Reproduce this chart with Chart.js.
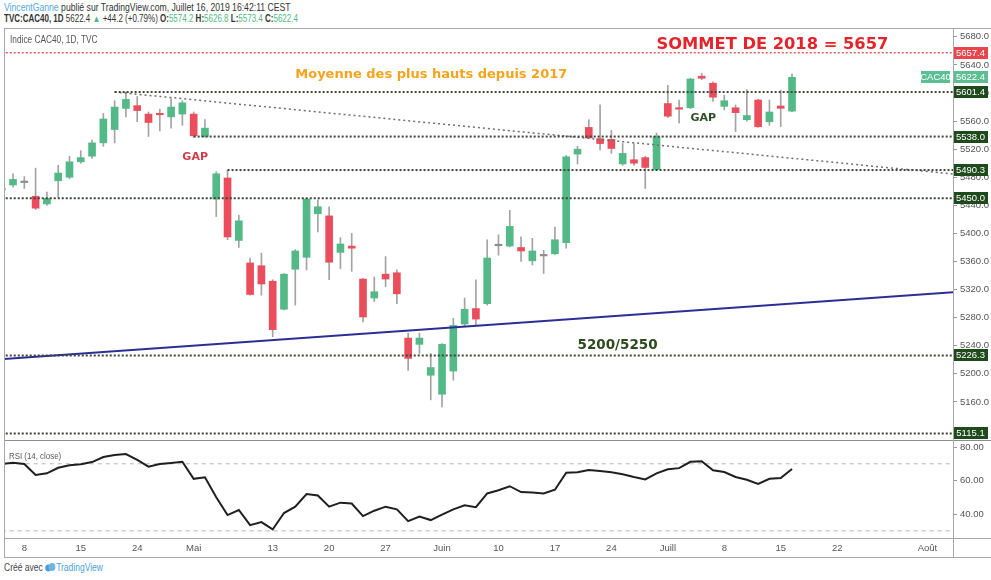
<!DOCTYPE html>
<html>
<head>
<meta charset="utf-8">
<title>CAC40 1D</title>
<script src="https://cdn.jsdelivr.net/npm/chart.js@4.4.1/dist/chart.umd.min.js"></script>
<style>
  body { margin: 0; width: 991px; height: 580px; background: #fff; position: relative; overflow: hidden;
         font-family: 'Liberation Sans', Arial, sans-serif; color: #333; }
  .abs { position: absolute; white-space: nowrap; transform-origin: left center; }
  #hdr1 { left: 4px; top: 2px; font-size: 10px; transform: scaleX(0.865); }
  #hdr2 { left: 4px; top: 13px; font-size: 10px; transform: scaleX(0.80); }
  .user { color: #55a9e0; }
  .g { color: #53b987; }
  #main { left: 4px; top: 28px; }
  #rsi { left: 4px; top: 440px; }
  .hl { position: absolute; height: 1px; background: #a8a8a8; }
  .vl { position: absolute; width: 1px; background: #a8a8a8; }
  #lbl1 { left: 10px; top: 34px; font-size: 10px; color: #555; transform: scaleX(0.83); }
  #lbl2 { left: 9px; top: 450px; font-size: 9.5px; color: #555; transform: scaleX(0.83); }
  #foot { left: 4px; top: 562px; font-size: 10px; color: #444; transform: scaleX(0.85); }
  #foot .tv { color: #4a9fd8; }
</style>
</head>
<body>
<div id="hdr1" class="abs"><span class="user">VincentGanne</span> publié sur TradingView.com, Juillet 16, 2019 16:42:11 CEST</div>
<div id="hdr2" class="abs"></div>
<canvas id="main" class="abs" width="987" height="412"></canvas>
<canvas id="rsi" class="abs" width="987" height="118"></canvas>
<div class="hl" style="left:4px;top:28px;width:987px"></div>
<div class="hl" style="left:4px;top:440px;width:987px;background:#8c8c8c"></div>
<div class="hl" style="left:4px;top:538px;width:987px"></div>
<div class="hl" style="left:4px;top:557px;width:987px"></div>
<div class="vl" style="left:4px;top:28px;height:530px"></div>
<div class="vl" style="left:953px;top:28px;height:530px"></div>
<div id="lbl1" class="abs">Indice CAC40, 1D, TVC</div>
<div id="lbl2" class="abs">RSI (14, close)</div>
<div id="foot" class="abs">Créé avec <svg width="13" height="9" viewBox="0 0 13 9" style="vertical-align:-1px"><circle cx="4" cy="5" r="3.5" fill="#4a9fd8"/><circle cx="8.5" cy="4" r="4" fill="#6bb6e6"/></svg><span class="tv">TradingView</span></div>
<script>
// ── Data ─────────────────────────────────────────────────
const dates = [
  '2019-04-04', '2019-04-05', '2019-04-08', '2019-04-09', '2019-04-10', '2019-04-11', '2019-04-12',
  '2019-04-15', '2019-04-16', '2019-04-17', '2019-04-18', '2019-04-23', '2019-04-24', '2019-04-25',
  '2019-04-26', '2019-04-29', '2019-04-30', '2019-05-02', '2019-05-03', '2019-05-06', '2019-05-07',
  '2019-05-08', '2019-05-09', '2019-05-10', '2019-05-13', '2019-05-14', '2019-05-15', '2019-05-16',
  '2019-05-17', '2019-05-20', '2019-05-21', '2019-05-22', '2019-05-23', '2019-05-24', '2019-05-27',
  '2019-05-28', '2019-05-29', '2019-05-30', '2019-05-31', '2019-06-03', '2019-06-04', '2019-06-05',
  '2019-06-06', '2019-06-07', '2019-06-10', '2019-06-11', '2019-06-12', '2019-06-13', '2019-06-14',
  '2019-06-17', '2019-06-18', '2019-06-19', '2019-06-20', '2019-06-21', '2019-06-24', '2019-06-25',
  '2019-06-26', '2019-06-27', '2019-06-28', '2019-07-01', '2019-07-02', '2019-07-03', '2019-07-04',
  '2019-07-05', '2019-07-08', '2019-07-09', '2019-07-10', '2019-07-11', '2019-07-12', '2019-07-15',
  '2019-07-16',
  // empty days to the right of the last candle
  '2019-07-17', '2019-07-18', '2019-07-19', '2019-07-22', '2019-07-23', '2019-07-24', '2019-07-25',
  '2019-07-26', '2019-07-29', '2019-07-30', '2019-07-31', '2019-08-01', '2019-08-02', '2019-08-05',
  '2019-08-06'
];
const open = [
  5462, 5469, 5472.5, 5453, 5442, 5475, 5480, 5502, 5510, 5529, 5548, 5578, 5582, 5570, 5571, 5566, 5570,
  5570, 5538, 5449, 5479, 5390, 5358, 5354, 5332, 5292, 5349, 5366, 5428, 5425, 5373, 5382, 5335, 5308,
  5342, 5344, 5251, 5242, 5198, 5171, 5204, 5271, 5293, 5300, 5382.5, 5382, 5380, 5361, 5368, 5371,
  5387, 5513, 5551, 5535, 5534, 5499, 5505, 5508, 5491, 5585, 5579, 5579, 5624, 5614, 5581, 5579,
  5562, 5590, 5559, 5581.5, 5574.2
];
const high = [
  5466, 5485, 5481, 5493, 5459, 5497, 5510, 5518, 5533, 5571, 5589, 5601.4, 5595, 5573, 5577, 5592, 5589,
  5573, 5562, 5488, 5490.3, 5426, 5365, 5372, 5334, 5343, 5377, 5450, 5448, 5438, 5394, 5400, 5336, 5338,
  5367, 5348, 5258, 5258, 5229, 5243, 5279, 5308, 5334, 5391, 5398, 5433, 5395, 5393, 5376, 5409,
  5511, 5524, 5562, 5583, 5547, 5528, 5528, 5510, 5543, 5611, 5590, 5621, 5628, 5616, 5597, 5583,
  5605, 5591, 5590, 5604, 5626.8
];
const low = [
  5459, 5466, 5464, 5434, 5440, 5452, 5478, 5500, 5507, 5524, 5529, 5566, 5559, 5538, 5546, 5550, 5554,
  5537, 5537, 5424, 5391, 5380, 5312, 5312, 5253, 5291, 5298, 5348, 5402, 5334, 5350, 5346, 5274, 5303,
  5324, 5300, 5205, 5229, 5163, 5153, 5191, 5268, 5270, 5298, 5369, 5381, 5360, 5355, 5343, 5370,
  5379, 5499, 5535, 5519, 5514, 5497, 5497, 5464, 5490, 5565, 5557, 5578, 5619, 5588, 5576, 5545,
  5560, 5551, 5554, 5552, 5573.4
];
const close = [
  5463, 5477, 5472.5, 5436, 5450, 5486, 5502, 5508, 5529, 5563, 5580, 5591, 5575, 5558, 5569, 5580, 5586,
  5539, 5550, 5485, 5395, 5418, 5313, 5328, 5263, 5342, 5375, 5449, 5438, 5359, 5385, 5379, 5281, 5317,
  5335, 5314, 5222, 5251, 5209, 5242, 5269, 5292, 5278, 5365, 5382.5, 5410, 5375, 5375, 5368, 5391,
  5509, 5520, 5536, 5528, 5521, 5514, 5500, 5494, 5538, 5567, 5577, 5620, 5621, 5594, 5589, 5572,
  5568, 5552, 5573, 5578.2, 5622.4
];
const rsi = [
  69.9, 70.6, 69.9, 63.3, 64.3, 67.6, 69.1, 69.7, 71.0, 74.0, 75.2, 75.8, 72.3, 68.3, 69.9, 70.5, 71.2,
  61.0, 61.9, 50.0, 39.4, 42.4, 33.4, 35.2, 30.8, 40.6, 44.4, 51.9, 51.1, 44.4, 46.8, 46.3, 38.8, 42.0,
  44.4, 42.8, 35.8, 38.5, 36.4, 39.6, 42.8, 45.2, 44.1, 52.3, 54.2, 56.6, 53.1, 52.9, 52.3, 54.5,
  64.7, 64.9, 66.3, 65.7, 64.9, 63.7, 62.1, 60.7, 64.3, 66.7, 67.4, 71.2, 71.5, 66.1, 65.1, 62.1,
  60.5, 58.0, 61.0, 61.5, 66.9
];

const priceTicks = [5160, 5200, 5240, 5280, 5320, 5360, 5400, 5440, 5480, 5520, 5560, 5600, 5640, 5680];
const rsiTicks = [40, 60, 80];
const rsiBands = [70, 30];
const tickDates = ['2019-04-08', '2019-04-15', '2019-04-24', '2019-05-02', '2019-05-13', '2019-05-20',
  '2019-05-27', '2019-06-03', '2019-06-10', '2019-06-17', '2019-06-24', '2019-07-01', '2019-07-08',
  '2019-07-15', '2019-07-22', '2019-08-01'];
const tickLabels = ['8', '15', '24', 'Mai', '13', '20', '27', 'Juin', '10', '17', '24', 'Juill', '8', '15', '22', 'Août'];

// horizontal levels drawn on the chart (null = across the whole chart)
const levels = [5657.4, 5601.4, 5538.0, 5490.3, 5450.0, 5226.3, 5115.1];
const levelFrom = [null, '2019-04-18', '2019-05-02', '2019-05-07', null, null, null];
// dotted falling line from the April high, solid rising support
const resistDates = ['2019-04-18', '2019-08-06'];
const resistValues = [5601.4, 5483.5];
const supportDates = ['2019-04-04', '2019-08-06'];
const supportValues = [5221, 5317];

// text notes written on the chart
const notes = ['SOMMET DE 2018 = 5657', 'Moyenne des plus hauts depuis 2017', 'GAP', 'GAP', '5200/5250'];
const noteDates = ['2019-06-28', '2019-05-15', '2019-04-30', '2019-07-03', '2019-06-19'];
const noteValues = [5668.5, 5626, 5508.5, 5564, 5240];

// ── Styles ───────────────────────────────────────────────
const UP = '#53b987', DOWN = '#eb4d5c', FLAT = '#8c8c8c', WICK = '#a3a3a3';
const noteStyle = [
  { font: 'bold 16.3px "DejaVu Sans"', color: '#e5232b' },
  { font: 'bold 13px "DejaVu Sans"', color: '#f5a31d' },
  { font: 'bold 11px "DejaVu Sans"', color: '#cf3d48' },
  { font: 'bold 11px "DejaVu Sans"', color: '#2f4f2c' },
  { font: 'bold 13.5px "DejaVu Sans"', color: '#2c4a1e' }
];
const AX_FONT = { family: 'Liberation Sans', size: 9.5 };
const X_MIN = 0.2, X_MAX = 84.26;

const idx = d => dates.indexOf(d);
const n = close.length;
const last = dates.length - 1;
// keep the plot area flush with the canvas edges
const noPad = s => { s.paddingTop = 0; s.paddingBottom = 0; s.paddingLeft = 0; s.paddingRight = 0; };

// header line built from the last candle
(() => {
  const o = open[n - 1], h = high[n - 1], l = low[n - 1], c = close[n - 1], ch = c - close[n - 2];
  document.getElementById('hdr2').innerHTML =
    `<b>TVC:CAC40, 1D</b> ${c.toFixed(1)} <span class="g">▲</span> +${ch.toFixed(1)} (+${(ch / close[n - 2] * 100).toFixed(2)}%) ` +
    `<b>O:</b><span class="g">${o.toFixed(1)}</span> <b>H:</b><span class="g">${h.toFixed(1)}</span> ` +
    `<b>L:</b><span class="g">${l.toFixed(1)}</span> <b>C:</b><span class="g">${c.toFixed(1)}</span>`;
})();

// ── Overlay: notes + price badges ────────────────────────
const overlay = {
  id: 'overlay',
  afterDraw(chart) {
    const { ctx, chartArea, scales: { x, y } } = chart;
    ctx.save();
    ctx.textBaseline = 'middle';
    notes.forEach((t, k) => {
      ctx.font = noteStyle[k].font; ctx.fillStyle = noteStyle[k].color; ctx.textAlign = 'left';
      ctx.fillText(t, x.getPixelForValue(idx(noteDates[k])), y.getPixelForValue(noteValues[k]));
    });
    const badge = (v, bg, left, w, txt) => {
      const py = Math.round(y.getPixelForValue(v));
      ctx.fillStyle = bg; ctx.fillRect(left, py - 6, w, 12);
      ctx.fillStyle = '#fff'; ctx.textAlign = 'center';
      ctx.font = '9.5px "Liberation Sans"';
      ctx.fillText(txt, left + w / 2, py + 0.5);
    };
    levels.forEach((v, k) => badge(v, k === 0 ? '#e8464c' : '#1e4a1c', chartArea.right, 35, v.toFixed(1)));
    const lc = close[n - 1];
    badge(lc, '#5cbf93', chartArea.right, 35, lc.toFixed(1));
    badge(lc, '#5cbf93', chartArea.right - 32, 29, 'CAC40');
    ctx.restore();
  }
};

// ── Main candlestick chart ───────────────────────────────
const lineDs = (pts, color, width, dash) => ({
  type: 'line', data: pts, borderColor: color, borderWidth: width, borderDash: dash,
  pointRadius: 0, tension: 0, order: 0
});
const candleCol = i => close[i] > open[i] ? UP : (close[i] < open[i] ? DOWN : FLAT);

new Chart(document.getElementById('main').getContext('2d'), {
  type: 'bar',
  data: {
    datasets: [
      ...levels.map((v, k) => lineDs(
        [{ x: levelFrom[k] ? idx(levelFrom[k]) : 0, y: v }, { x: last, y: v }],
        k === 0 ? '#e4585c' : '#3d4636', k === 0 ? 1.5 : 2, [2, 2])),
      lineDs(resistDates.map((d, k) => ({ x: idx(d), y: resistValues[k] })), '#6e6e6e', 1.5, [2, 3]),
      lineDs(supportDates.map((d, k) => ({ x: idx(d), y: supportValues[k] })), '#2d2d96', 2, []),
      { type: 'bar', data: close.map((c, i) => ({ x: i, y: [open[i], c] })),
        backgroundColor: close.map((c, i) => candleCol(i)), barThickness: 7, minBarLength: 1.5,
        grouped: false, order: 1 },
      { type: 'bar', data: close.map((c, i) => ({ x: i, y: [low[i], high[i]] })),
        backgroundColor: WICK, barThickness: 1, grouped: false, order: 2 }
    ]
  },
  options: {
    responsive: false, animation: false,
    layout: { padding: 0, autoPadding: false },
    plugins: { legend: { display: false }, tooltip: { enabled: false } },
    scales: {
      x: { type: 'linear', min: X_MIN, max: X_MAX, offset: false, display: false, grid: { offset: false } },
      y: {
        position: 'right', min: 5105.8, max: 5692.6,
        afterFit: s => { s.width = 38; noPad(s); },
        afterBuildTicks: s => { s.ticks = priceTicks.map(v => ({ value: v })); },
        ticks: { color: '#555', font: AX_FONT, padding: 3, callback: v => v.toFixed(1) },
        grid: { drawOnChartArea: false, tickLength: 4, color: '#999' },
        border: { display: false }
      }
    }
  },
  plugins: [overlay]
});

// ── RSI panel ────────────────────────────────────────────
new Chart(document.getElementById('rsi').getContext('2d'), {
  type: 'line',
  data: {
    datasets: [
      { data: rsi.map((v, i) => ({ x: i, y: v })), borderColor: '#1f1f1f', borderWidth: 2, pointRadius: 0, tension: 0 },
      ...rsiBands.map(b => ({ data: [{ x: 0, y: b }, { x: last, y: b }], borderColor: '#b8b8b8',
        borderWidth: 1, borderDash: [4, 4], pointRadius: 0 }))
    ]
  },
  options: {
    responsive: false, animation: false,
    layout: { padding: { top: 2 }, autoPadding: false },
    plugins: { legend: { display: false }, tooltip: { enabled: false } },
    scales: {
      x: {
        type: 'linear', min: X_MIN, max: X_MAX, offset: false,
        afterFit: s => { s.height = 20; noPad(s); },
        afterBuildTicks: s => { s.ticks = tickDates.map(d => ({ value: idx(d) })); },
        ticks: { color: '#555', font: AX_FONT, padding: 5, autoSkip: false, maxRotation: 0,
                 callback: v => tickLabels[tickDates.findIndex(d => idx(d) === v)] },
        grid: { display: false, drawTicks: false },
        border: { display: false }
      },
      y: {
        position: 'right', min: 25.7, max: 83,
        afterFit: s => { s.width = 38; noPad(s); },
        afterBuildTicks: s => { s.ticks = rsiTicks.map(v => ({ value: v })); },
        ticks: { color: '#555', font: AX_FONT, padding: 3, callback: v => v.toFixed(2) },
        grid: { drawOnChartArea: false, tickLength: 4, color: '#999' },
        border: { display: false }
      }
    }
  }
});
</script>
</body>
</html>
